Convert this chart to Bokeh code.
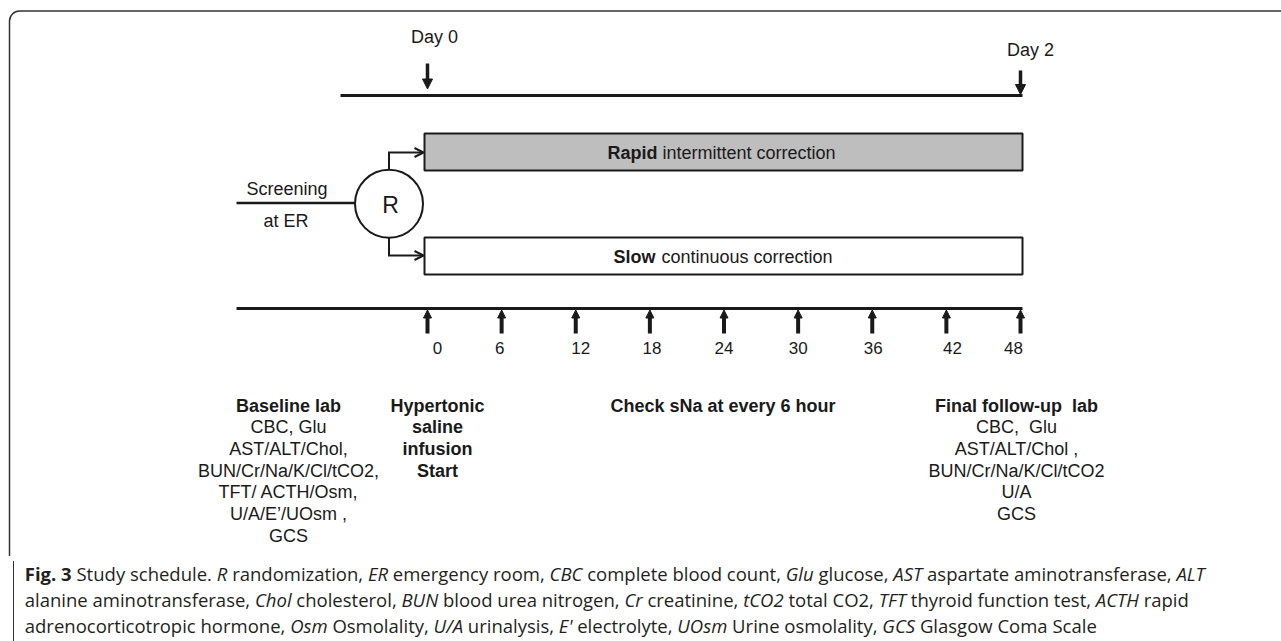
from bokeh.plotting import figure
from bokeh.models import (Range1d, Arrow, NormalHead, OpenHead, BoxAnnotation,
                          ColumnDataSource, Div)
from bokeh.layouts import column
from bokeh.core.properties import value
from bokeh.embed import file_html
from bokeh.resources import INLINE

# ---------------- data ----------------
hours = [0, 6, 12, 18, 24, 30, 36, 42, 48]
hour_labels = ["0", "6", "12", "18", "24", "30", "36", "42", "48"]
day_hours = [0, 48]
day_labels = ["Day 0", "Day 2"]
arm_names = ["Rapid", "Slow"]
arm_rest = ["intermittent correction", "continuous correction"]
screening_lines = ["Screening", "at ER"]
random_label = "R"
baseline_title = "Baseline lab"
baseline_lines = ["CBC, Glu", "AST/ALT/Chol,", "BUN/Cr/Na/K/Cl/tCO2,",
                  "TFT/ ACTH/Osm,", "U/A/E\u2019/UOsm ,", "GCS"]
infusion_lines = ["Hypertonic", "saline", "infusion", "Start"]
check_label = "Check sNa at every 6 hour"
final_title = "Final follow-up\u00a0 lab"
final_lines = ["CBC,\u00a0 Glu", "AST/ALT/Chol ,", "BUN/Cr/Na/K/Cl/tCO2", "U/A", "GCS"]
caption_html = (
    "<b>Fig. 3</b> Study schedule. <i>R</i> randomization, <i>ER</i> emergency room, "
    "<i>CBC</i> complete blood count, <i>Glu</i> glucose, <i>AST</i> aspartate aminotransferase, <i>ALT</i><br>"
    "alanine aminotransferase, <i>Chol</i> cholesterol, <i>BUN</i> blood urea nitrogen, <i>Cr</i> creatinine, "
    "<i>tCO2</i> total CO2, <i>TFT</i> thyroid function test, <i>ACTH</i> rapid<br>"
    "adrenocorticotropic hormone, <i>Osm</i> Osmolality, <i>U/A</i> urinalysis, <i>E'</i> electrolyte, "
    "<i>UOsm</i> Urine osmolality, <i>GCS</i> Glasgow Coma Scale"
)

# ---------------- layout helpers ----------------
PAGE_W, PAGE_H = 1281, 641
FIG_H = 556
CAP_H = PAGE_H - FIG_H
PX0, PX48 = 427.0, 1020.0          # page x of hour 0 and hour 48
K = (PX48 - PX0) / 48.0


def hx(px):
    """page pixel x -> hour units of the x scale"""
    return (px - PX0) / K


INK = "#1a1a1a"
FONT = value("Liberation Sans")
FS = "18px"

p = figure(width=PAGE_W, height=FIG_H,
           x_range=Range1d(hx(0), hx(PAGE_W)),
           y_range=Range1d(FIG_H, 0),
           x_axis_type=None, y_axis_type=None,
           output_backend="svg", toolbar_location=None, min_border=0)
p.grid.visible = False
p.outline_line_color = None
p.background_fill_color = "white"
p.border_fill_color = "white"

# frame (rounded, running off right/bottom)
p.add_layout(BoxAnnotation(left=hx(9), right=hx(1500), top=10.5, bottom=900,
                           border_radius=10, fill_alpha=0, line_alpha=1,
                           line_color="#333333", line_width=1.5))

# top timeline with day markers
p.line([hx(340), hx(1022)], [95, 95], line_width=3, line_color=INK)
day_src = ColumnDataSource(dict(x=day_hours, y0=[63, 70], y1=[88.5, 94]))
p.add_layout(Arrow(source=day_src, x_start="x", y_start="y0", x_end="x", y_end="y1",
                   line_width=3.5, line_color=INK,
                   end=NormalHead(size=10, fill_color=INK, line_color=INK, line_width=1)))
p.text(x=day_hours, y=[36, 49], text=day_labels, x_offset=[7, 10],
       text_align="center", text_baseline="middle", text_font=FONT,
       text_font_size=FS, text_color=INK)

# treatment arm boxes
p.quad(left=[hx(424)] * 2, right=[hx(1022)] * 2, top=[133, 237], bottom=[170, 274],
       fill_color=["#bebebe", "white"], line_color=INK, line_width=2)
arm_y = [152.5, 256]
p.text(x=[hx(657), hx(655)], y=arm_y, text=arm_names, text_align="right",
       text_baseline="middle", text_font=FONT, text_font_size=FS,
       text_font_style="bold", text_color=INK)
p.text(x=[hx(662), hx(661)], y=arm_y, text=arm_rest, text_align="left",
       text_baseline="middle", text_font=FONT, text_font_size=FS, text_color=INK)

# randomisation circle and connectors
cx = hx(388.5)
p.line([hx(236), hx(355)], [202.5, 202.5], line_width=2.5, line_color=INK)
p.multi_line([[cx, cx], [cx, cx]], [[170, 152], [237, 255]], line_width=2, line_color=INK)
br_src = ColumnDataSource(dict(x0=[hx(387.5)] * 2, x1=[hx(423)] * 2, y=[152, 255]))
p.add_layout(Arrow(source=br_src, x_start="x0", y_start="y", x_end="x1", y_end="y",
                   line_width=2, line_color=INK,
                   end=OpenHead(size=9, line_width=2, line_color=INK)))
p.scatter(x=[cx], y=[203.3], size=68, marker="circle", fill_color="white",
          line_color=INK, line_width=2)
p.text(x=[hx(390)], y=[204], text=[random_label], text_align="center",
       text_baseline="middle", text_font=FONT, text_font_size="23px", text_color=INK)
p.text(x=[hx(286.5), hx(285.5)], y=[188, 220], text=screening_lines,
       text_align="center", text_baseline="middle", text_font=FONT,
       text_font_size=FS, text_color=INK)

# bottom timeline with 6-hourly checks
p.line([hx(236), hx(1022)], [308, 308], line_width=3, line_color=INK)
up_src = ColumnDataSource(dict(x=hours, y0=[333] * len(hours), y1=[309.5] * len(hours)))
p.add_layout(Arrow(source=up_src, x_start="x", y_start="y0", x_end="x", y_end="y1",
                   line_width=4, line_color=INK,
                   end=NormalHead(size=8, fill_color=INK, line_color=INK, line_width=1)))
p.text(x=hours, y=[347] * len(hours), text=hour_labels,
       x_offset=[10, -2, 5, 2, 0, 0, 1, 6, -7],
       text_align="center", text_baseline="middle", text_font=FONT,
       text_font_size="17px", text_color=INK)

# text blocks under the timeline
LH = 21.7
Y0 = 405


def block(xc, title, lines, bold_all=False):
    if title is not None:
        p.text(x=[hx(xc)], y=[Y0], text=[title], text_align="center",
               text_baseline="middle", text_font=FONT, text_font_size=FS,
               text_font_style="bold", text_color=INK)
        start = 1
    else:
        start = 0
    ys = [Y0 + (i + start) * LH for i in range(len(lines))]
    p.text(x=[hx(xc)] * len(lines), y=ys, text=lines, text_align="center",
           text_baseline="middle", text_font=FONT, text_font_size=FS,
           text_font_style="bold" if bold_all else "normal", text_color=INK)


block(288, baseline_title, baseline_lines)
block(437, None, infusion_lines, bold_all=True)
block(722.5, None, [check_label], bold_all=True)
block(1016, final_title, final_lines)

cap = Div(
    text=('<div style="margin-left:8.25px;border-left:1.5px solid #333333;'
          'padding-left:10.5px;padding-top:0px;box-sizing:border-box;height:%dpx;'
          'font-family:\'Open Sans\',sans-serif;font-size:18.5px;'
          'line-height:26px;color:#231f20;white-space:nowrap;">' % CAP_H
          + caption_html + '</div>'),
    width=PAGE_W, height=CAP_H)

layout = column(p, cap, spacing=0)
open("out.html", "w").write(file_html(layout, INLINE))
